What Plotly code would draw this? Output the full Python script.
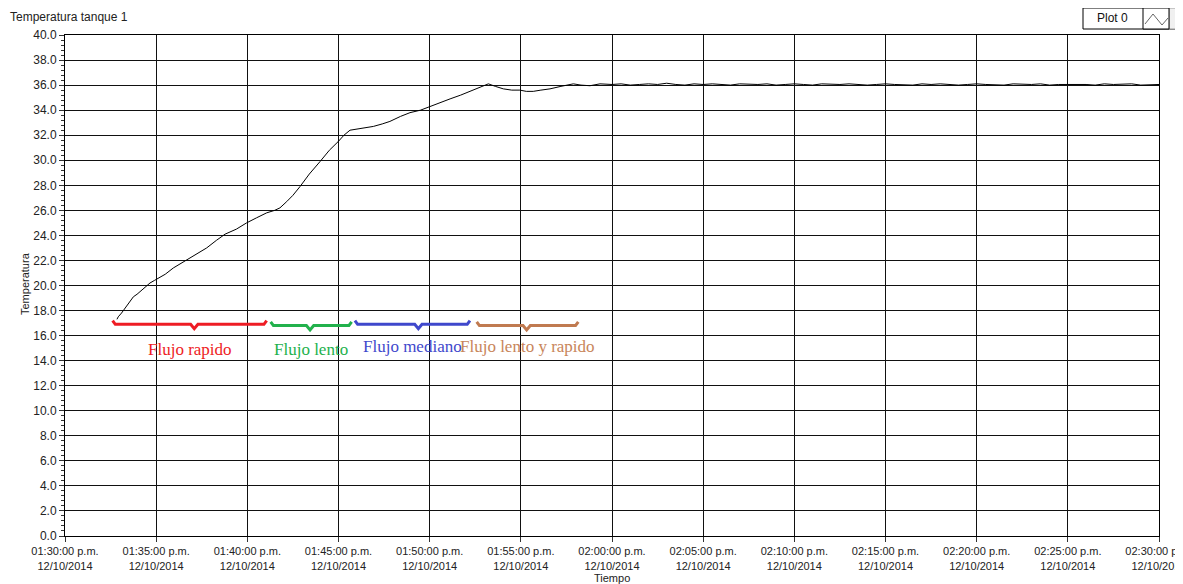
import pandas as pd
import plotly.graph_objects as go

# minutes after 01:30:00 p.m. and tank temperature
minutes = [2.85, 2.92, 3.1, 3.29, 3.5, 3.75, 3.95, 4.11, 4.4, 4.66, 4.9, 5.12, 5.5, 5.94,
           6.4, 6.86, 7.3, 7.77, 8.3, 8.78, 9.4, 9.96, 10.5, 11.06, 11.5, 11.79, 12.16,
           12.5, 12.89, 13.4, 13.99, 14.5, 14.99, 15.3, 15.63, 16.0, 16.36, 16.91, 17.4,
           17.82, 18.4, 18.92, 19.5, 20.02, 20.6, 21.12, 21.7, 22.21, 22.7, 23.22, 23.6,
           24.04, 24.5, 24.95, 25.3, 25.68, 26.1, 26.6, 27.2, 27.88, 28.3, 28.79, 29.34,
           30.0, 30.5, 31.0, 31.5, 32.0, 32.5, 33.0, 33.5, 34.0, 34.5, 35.0, 35.5, 36.0,
           36.5, 37.0, 37.5, 38.0, 38.5, 39.0, 39.5, 40.0, 40.5, 41.0, 41.5, 42.0, 42.5,
           43.0, 43.5, 44.0, 44.5, 45.0, 45.5, 46.0, 46.5, 47.0, 47.5, 48.0, 48.5, 49.0,
           49.5, 50.0, 50.5, 51.0, 51.5, 52.0, 52.5, 53.0, 53.5, 54.0, 54.5, 55.0, 55.5,
           56.0, 56.5, 57.0, 57.5, 58.0, 58.5, 59.0, 59.5, 60.0]
temperatura = [17.3, 17.5, 17.8, 18.2, 18.6, 19.1, 19.3, 19.5, 19.9, 20.2, 20.4, 20.6, 20.9, 21.4,
               21.8, 22.2, 22.6, 23.0, 23.6, 24.1, 24.5, 25.0, 25.4, 25.8, 26.0, 26.2, 26.7,
               27.2, 27.9, 28.9, 29.9, 30.8, 31.5, 32.0, 32.4, 32.5, 32.6, 32.7, 32.9,
               33.1, 33.5, 33.8, 34.0, 34.3, 34.6, 34.9, 35.2, 35.5, 35.8, 36.1, 35.9,
               35.7, 35.6, 35.6, 35.5, 35.5, 35.6, 35.7, 35.9, 36.1, 36.0, 35.95, 36.1,
               36.05, 36.1, 36.0, 36.05, 36.1, 36.05, 36.15, 36.05, 36.0, 36.1, 36.05, 36.1, 36.05,
               36.0, 36.1, 36.05, 36.05, 36.1, 36.0, 36.05, 36.1, 36.05, 36.0, 36.1, 36.05, 36.05,
               36.1, 36.05, 36.0, 36.05, 36.1, 36.05, 36.05, 36.0, 36.1, 36.05, 36.1, 36.05, 36.0,
               36.05, 36.1, 36.05, 36.05, 36.0, 36.1, 36.05, 36.05, 36.1, 36.0, 36.05, 36.05, 36.1,
               36.05, 36.0, 36.1, 36.05, 36.05, 36.1, 36.0, 36.05, 36.05]

# flow periods marked with braces (minutes after 01:30)
flujo_labels = ["Flujo rapido", "Flujo lento", "Flujo mediano", "Flujo lento y rapido"]
flujo_start = [2.61, 11.28, 15.9, 22.58]
flujo_end = [11.06, 15.72, 22.21, 28.15]
flujo_mid = [7.09, 13.44, 19.38, 25.32]
flujo_level = [16.9, 16.8, 16.9, 16.8]
flujo_colors = ["#ee1c24", "#22b14c", "#3f48cc", "#c07a50"]
label_colors = ["#ee1c24", "#22b14c", "#3f48cc", "#c8855a"]

base = pd.Timestamp("2014-10-12 13:30:00")


def t(m):
    return base + pd.to_timedelta(m, unit="min")


# the page body puts the figure 8px in from the top-left corner
OFF = 8
W, H = 1183 - OFF, 584 - OFF
L, R, T, B = 65 - OFF, 24, 35 - OFF, 48


def px(x):
    return (x - OFF - L) / (W - L - R)


def py(y):
    return (H - B - (y - OFF)) / (H - T - B)


fig = go.Figure()
fig.add_trace(go.Scatter(
    x=t(pd.Series(minutes)), y=temperatura, mode="lines",
    line=dict(color="black", width=1), name="Plot 0", showlegend=False))

for i, lab in enumerate(flujo_labels):
    s, e, m, lv = flujo_start[i], flujo_end[i], flujo_mid[i], flujo_level[i]
    bx = [s, s + 0.15, m - 0.2, m, m + 0.2, e - 0.15, e]
    by = [lv + 0.3, lv, lv, lv - 0.35, lv, lv, lv + 0.3]
    fig.add_trace(go.Scatter(
        x=t(pd.Series(bx)), y=by, mode="lines",
        line=dict(color=flujo_colors[i], width=3), showlegend=False, hoverinfo="skip"))

label_y = [14.9, 14.9, 15.1, 15.1]
for i, lab in enumerate(flujo_labels):
    center = (flujo_start[i] + flujo_end[i]) / 2
    fig.add_annotation(
        x=t(center), y=label_y[i], text=lab, showarrow=False,
        font=dict(family="Liberation Serif", size=17, color=label_colors[i]))

font = "Liberation Sans Narrow, Liberation Sans"
fig.update_layout(
    width=W, height=H,
    margin=dict(l=L, r=R, t=T, b=B),
    plot_bgcolor="white", paper_bgcolor="white",
    font=dict(family=font, size=11, color="#222"),
    showlegend=False,
)
fig.update_xaxes(
    range=[t(0), t(60)], type="date", automargin=False,
    tick0=t(0), dtick=5 * 60 * 1000,
    tickformat="%I:%M:%S p.m.<br>%d/%m/%Y", ticklabeloverflow="allow",
    showgrid=True, gridcolor="#111", gridwidth=1,
    showline=True, linecolor="black", linewidth=1, mirror=True,
    ticks="outside", ticklen=5, tickcolor="#333",
    zeroline=False,
)
fig.update_yaxes(
    range=[0, 40], dtick=2, tickformat=".1f", automargin=False,
    showgrid=True, gridcolor="#111", gridwidth=1,
    showline=True, linecolor="black", linewidth=1, mirror=True,
    ticks="outside", ticklen=5, tickcolor="#333",
    minor=dict(dtick=0.4, ticks="outside", ticklen=3, tickcolor="#333", showgrid=False),
    tickfont=dict(size=12),
    zeroline=False,
)

# axis titles
fig.add_annotation(
    x=px(612), y=py(578), xref="paper", yref="paper", xanchor="center", yanchor="middle",
    text="Tiempo", showarrow=False, font=dict(size=11, color="#222"))
fig.add_annotation(
    x=px(25), y=py(284), xref="paper", yref="paper", xanchor="center", yanchor="middle",
    text="Temperatura", textangle=-90, showarrow=False, font=dict(size=11, color="#222"))

# chart title
fig.add_annotation(
    x=px(8), y=py(17), xref="paper", yref="paper", xanchor="left", yanchor="middle",
    text="Temperatura tanque 1", showarrow=False, font=dict(size=12, color="#222"))

# "Plot 0" legend box
fig.add_shape(type="rect", xref="paper", yref="paper",
              x0=px(1083), x1=px(1180), y0=py(29), y1=py(8),
              line=dict(color="black", width=1), fillcolor="white")
fig.add_shape(type="rect", xref="paper", yref="paper",
              x0=px(1169), x1=px(1180), y0=py(29), y1=py(8),
              line=dict(color="#999", width=1), fillcolor="#f0f0f0")
fig.add_shape(type="rect", xref="paper", yref="paper",
              x0=px(1143), x1=px(1169), y0=py(29), y1=py(8),
              line=dict(color="black", width=1), fillcolor="white")
fig.add_shape(type="path", xref="paper", yref="paper",
              path=f"M {px(1145)},{py(24)} L {px(1153)},{py(14)} L {px(1162)},{py(25)} L {px(1168)},{py(18)}",
              line=dict(color="#666", width=1))
fig.add_annotation(
    x=px(1112), y=py(18), xref="paper", yref="paper", xanchor="center", yanchor="middle",
    text="Plot 0", showarrow=False, font=dict(size=12, color="#111"))

fig.write_html("out.html")
